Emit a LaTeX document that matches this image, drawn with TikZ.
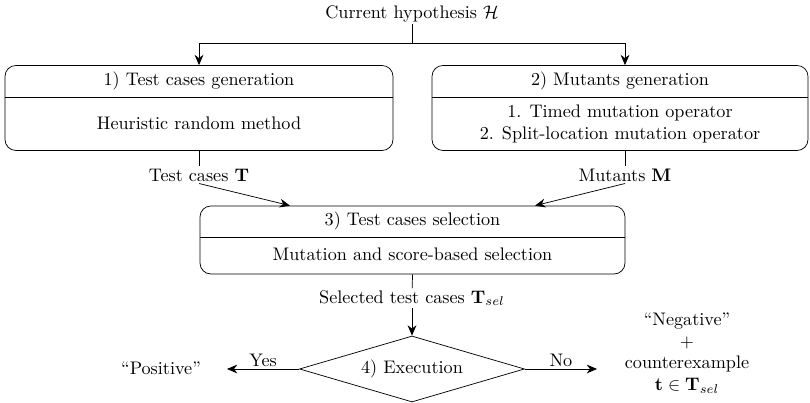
\documentclass[tikz,border=0pt]{standalone}
\usepackage{amsmath,amssymb}
\usetikzlibrary{arrows.meta,positioning,shapes.geometric}
\tikzset{
  stagebox/.style={draw, rounded corners=6pt, inner sep=0pt, minimum height=46.75pt},
  selbox/.style={stagebox, minimum height=37.4pt},
  decision/.style={draw, diamond, aspect=3.4, inner sep=0pt, minimum width=123.75pt, minimum height=36.3pt},
  lbl/.style={inner sep=1pt, align=center},
  arr/.style={-{Stealth[length=2mm,width=1.7mm]}}
}

\begin{document}
\begin{tikzpicture}[x=0.55pt,y=0.55pt]
  \useasboundingbox (0,0) rectangle (810,403);
  % input
  \node[lbl] (hyp) at (412,389) {Current hypothesis $\mathcal{H}$};
  \coordinate (split) at (412,360);
  % stage 1 and 2
  \node[stagebox, minimum width=213.4pt] (gen) at (199,295) {};
  \draw (gen.west |- 0,306) -- (gen.east |- 0,306);
  \node[lbl] (gentitle) at (199,322) {1) Test cases generation};
  \node[lbl] (genbody) at (199,280) {Heuristic random method};
  \node[stagebox, minimum width=206.8pt] (mut) at (620,295) {};
  \draw (mut.west |- 0,306) -- (mut.east |- 0,306);
  \node[lbl] (muttitle) at (620,322) {2) Mutants generation};
  \node[lbl] (mutbody) at (620,279) {1. Timed mutation operator\\2. Split-location mutation operator};
  \node[lbl] (tcases) at (199,228) {Test cases $\mathbf{T}$};
  \node[lbl] (mutants) at (625,228) {Mutants $\mathbf{M}$};
  % stage 3
  \node[selbox, minimum width=233.75pt] (sel) at (412.5,163) {};
  \draw (sel.west |- 0,166) -- (sel.east |- 0,166);
  \node[lbl] (seltitle) at (412.5,182) {3) Test cases selection};
  \node[lbl] (selbody) at (412.5,149) {Mutation and score-based selection};
  \node[lbl] (selected) at (412,105) {Selected test cases $\mathbf{T}_{sel}$};
  % stage 4
  \node[decision] (exec) at (412,34) {4) Execution};
  \node[lbl] (pos) at (161,35) {``Positive''};
  \node[lbl] (neg) at (687,50) {``Negative''\\$+$\\counterexample\\$\mathbf{t}\in\mathbf{T}_{sel}$};
  \coordinate (tin) at (290,0);
  \coordinate (min) at (535,0);
  \coordinate (yesend) at (227,0);
  \coordinate (noend) at (597,0);
  % connectors
  \draw (hyp) -- (split);
  \draw[arr] (split) -| (gen.north);
  \draw[arr] (split) -| (mut.north -| mutants);
  \draw (gen.south) -- (tcases);
  \draw (mut.south -| mutants) -- (mutants);
  \draw[arr] (tcases.south) -- (sel.north -| tin);
  \draw[arr] (mutants.south) -- (sel.north -| min);
  \draw (sel.south) -- (selected);
  \draw[arr] (selected) -- (exec.north);
  \draw[arr] (exec.west) -- node[lbl, above] {Yes} (exec.west -| yesend);
  \draw[arr] (exec.east) -- node[lbl, above] {No} (exec.east -| noend);
\end{tikzpicture}
\end{document}
